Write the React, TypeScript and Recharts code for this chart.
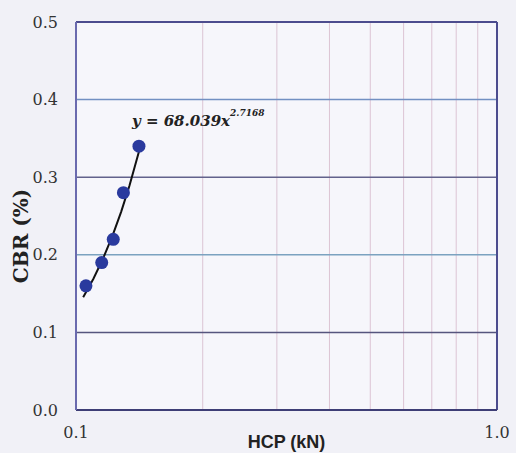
import React from 'react';
import {
  ScatterChart,
  Scatter,
  XAxis,
  YAxis,
  CartesianGrid,
  ReferenceLine,
  ReferenceDot,
} from 'recharts';

// Measured HCP (kN) vs CBR (%)
const hcpValues = [0.1056, 0.1151, 0.1226, 0.1296, 0.1411];
const cbrValues = [0.16, 0.19, 0.22, 0.28, 0.34];

// Power-law fit y = a * x^b
const fitCoefA = 68.039;
const fitExpB = 2.7168;
const fitXValues = [0.104, 0.11, 0.116, 0.122, 0.128, 0.134, 0.1415];

const xTicks = [0.1, 1.0];
const xMinorGrid = [0.2, 0.3, 0.4, 0.5, 0.6, 0.7, 0.8, 0.9];
const yTicks = [0, 0.1, 0.2, 0.3, 0.4, 0.5];
const yGridLines = [0.1, 0.2, 0.3, 0.4];
const yGridColors = ['#55557e', '#7ba2c0', '#62628c', '#7290c2'];

const points = hcpValues.map((x, i) => ({ x, y: cbrValues[i] }));
const trend = fitXValues.map((x) => ({ x, y: fitCoefA * Math.pow(x, fitExpB) }));

const serif = "'DejaVu Serif', serif";
const sans = "'Liberation Sans', Arial, sans-serif";

const XTitle = (props: any) => {
  const vb = props.viewBox || {};
  return (
    <text
      x={vb.x + vb.width / 2}
      y={vb.y + 38}
      textAnchor="middle"
      style={{ fontFamily: sans, fontWeight: 'bold', fontSize: 18 }}
      fill="#222"
    >
      HCP (kN)
    </text>
  );
};

const YTitle = () => (
  <text
    x={28}
    y={236}
    transform="rotate(-90 28 236)"
    textAnchor="middle"
    style={{ fontFamily: serif, fontWeight: 'bold', fontSize: 20 }}
    fill="#222"
  >
    CBR (%)
  </text>
);

const EquationLabel = (props: any) => {
  const vb = props.viewBox || {};
  const x = vb.x - 7;
  const y = vb.y - 20;
  return (
    <text
      x={x}
      y={y}
      style={{ fontFamily: serif, fontWeight: 'bold', fontStyle: 'italic' }}
      fill="#222"
    >
      <tspan style={{ fontSize: 15 }}>y = 68.039x</tspan>
      <tspan style={{ fontSize: 9 }} dy={-10}>2.7168</tspan>
    </text>
  );
};

const Dot = (props: any) => (
  <circle cx={props.cx} cy={props.cy} r={6.5} fill="#2a3a9e" />
);

const NoShape = () => <g />;

const tickStyle = { fontSize: 16, fill: '#333', style: { fontFamily: serif } };

export default function App() {
  return (
    <div
      style={{
        position: 'absolute',
        left: 0,
        top: 0,
        width: 516,
        height: 453,
        background: '#f1f1f7',
      }}
    >
      <ScatterChart
        width={516}
        height={453}
        margin={{ top: 22, right: 19, bottom: 0, left: 0 }}
      >
        <CartesianGrid horizontal={false} vertical={false} fill="#f6f6fb" />
        <XAxis
          dataKey="x"
          type="number"
          scale="log"
          domain={[0.1, 1]}
          ticks={xTicks}
          allowDataOverflow
          height={43}
          tickLine={false}
          tickMargin={11}
          axisLine={{ stroke: '#3e3e76', strokeWidth: 2 }}
          tick={tickStyle}
          tickFormatter={(v: number) => v.toFixed(1)}
          label={{ content: XTitle }}
        />
        <YAxis
          dataKey="y"
          type="number"
          domain={[0, 0.5]}
          ticks={yTicks}
          allowDataOverflow
          width={76}
          tickLine={false}
          tickMargin={12}
          axisLine={{ stroke: '#6a6aae', strokeWidth: 2 }}
          tick={tickStyle}
          tickFormatter={(v: number) => v.toFixed(1)}
          label={{ content: YTitle }}
        />
        {xMinorGrid.map((v) => (
          <ReferenceLine key={`vx${v}`} x={v} stroke="#dcc4d4" strokeWidth={1} />
        ))}
        {yGridLines.map((v, i) => (
          <ReferenceLine key={`hy${v}`} y={v} stroke={yGridColors[i]} strokeWidth={1.5} />
        ))}
        <ReferenceLine y={0.5} stroke="#4c4c8e" strokeWidth={2} />
        <ReferenceLine x={1} stroke="#4c4c8e" strokeWidth={2} />
        <Scatter
          data={trend}
          line={{ stroke: '#111', strokeWidth: 2 }}
          shape={NoShape}
          isAnimationActive={false}
          legendType="none"
        />
        <Scatter data={points} shape={Dot} isAnimationActive={false} />
        <ReferenceDot
          x={hcpValues[4]}
          y={cbrValues[4]}
          r={0}
          fill="none"
          stroke="none"
          label={{ content: EquationLabel }}
        />
      </ScatterChart>
    </div>
  );
}
